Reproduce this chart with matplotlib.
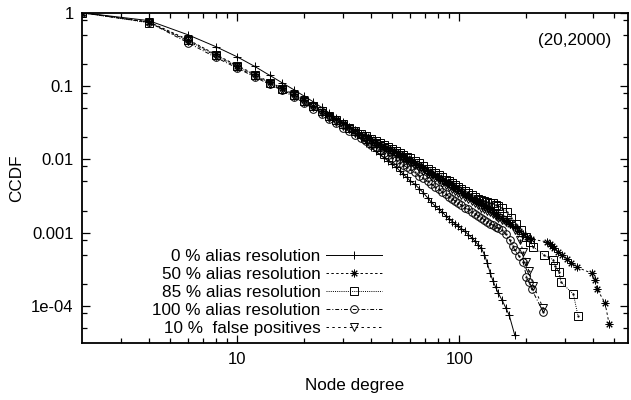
import matplotlib
matplotlib.use('Agg')
import matplotlib.pyplot as plt
from matplotlib.ticker import FixedLocator, FixedFormatter, NullFormatter

plt.rcParams['font.family'] = ['Liberation Sans', 'DejaVu Sans']

# degrees shared by the body of every curve
deg_body = [2, 4, 6, 8, 10, 12, 14, 16, 18, 20, 22, 24, 26, 28, 30, 32, 34, 36, 38, 40,
            42, 44, 46, 48, 50, 52, 54, 56, 58, 60,
            63, 66, 69, 72, 75, 78, 81, 84, 87, 90, 93, 96, 99, 102,
            106, 110, 114, 118, 122, 126, 130, 134, 138, 142, 146, 150]

# 0 % alias resolution
ccdf_0 = [1.0, 0.78, 0.50, 0.345, 0.25, 0.185, 0.140, 0.110, 0.089, 0.073, 0.061, 0.051, 0.043, 0.037, 0.032, 0.027, 0.023, 0.0195, 0.0168, 0.0146,
          0.0130, 0.0117, 0.0105, 0.0094, 0.0086, 0.0078, 0.0070, 0.0063, 0.0057, 0.0051,
          0.0046, 0.0040, 0.0035, 0.0030, 0.0026, 0.0023, 0.0021, 0.0019, 0.0017, 0.00155, 0.00142, 0.00132, 0.00122, 0.00114,
          0.00104, 0.00094, 0.00085, 0.00076, 0.00068, 0.00061, 0.00050, 0.00038, 0.00028, 0.00022, 0.00018, 0.00015]
tail_deg_0 = [156, 162, 168, 178]
tail_0 = [0.000120, 0.000095, 0.000075, 0.000040]

# 50 % alias resolution
ccdf_50 = [1.0, 0.75, 0.43, 0.27, 0.19, 0.145, 0.113, 0.093, 0.077, 0.064, 0.054, 0.046, 0.040, 0.035, 0.031, 0.0275, 0.0248, 0.0225, 0.0205, 0.0188,
           0.0174, 0.0162, 0.0152, 0.0142, 0.0133, 0.0125, 0.0117, 0.0110, 0.0104, 0.0098,
           0.0090, 0.0083, 0.0077, 0.0070, 0.0065, 0.0061, 0.0057, 0.0053, 0.0050, 0.0047, 0.0044, 0.0041, 0.0039, 0.0037,
           0.0034, 0.0032, 0.0030, 0.0028, 0.0026, 0.0025, 0.0023, 0.0022, 0.0021, 0.0019, 0.0018, 0.0017]
tail_deg_50 = [156, 162, 170, 178, 186, 194, 202, 210, 248, 256, 262, 268, 280, 292, 305, 320, 338, 395, 410, 418, 454, 474]
tail_50 = [0.0016, 0.00145, 0.00130, 0.00118, 0.00106, 0.00096, 0.00088, 0.00082, 0.00075, 0.00071, 0.00066, 0.00062,
           0.00055, 0.00049, 0.00044, 0.00039, 0.00034, 0.00028, 0.000225, 0.00017, 0.00011, 0.000056]

# 85 % alias resolution
ccdf_85 = [1.0, 0.73, 0.42, 0.265, 0.185, 0.140, 0.110, 0.091, 0.075, 0.063, 0.053, 0.045, 0.039, 0.034, 0.030, 0.027, 0.0245, 0.0223, 0.0205, 0.0190,
           0.0177, 0.0166, 0.0157, 0.0148, 0.0139, 0.0131, 0.0123, 0.0116, 0.0109, 0.0103,
           0.0095, 0.0088, 0.0081, 0.0075, 0.0070, 0.0065, 0.0061, 0.0057, 0.0053, 0.0050, 0.0047, 0.0044, 0.0042, 0.0040,
           0.0037, 0.0035, 0.0033, 0.0031, 0.0029, 0.0028, 0.0027, 0.0026, 0.0025, 0.0025, 0.0024, 0.0023]
tail_deg_85 = [156, 165, 172, 180, 190, 200, 208, 216, 242, 265, 270, 281, 288, 327, 343]
tail_85 = [0.0022, 0.0019, 0.0016, 0.0013, 0.0011, 0.00088, 0.00075, 0.00064, 0.00049, 0.00043, 0.00035, 0.00029, 0.00021, 0.000145, 0.000073]

# 100 % alias resolution
ccdf_100 = [1.0, 0.74, 0.39, 0.246, 0.176, 0.133, 0.105, 0.087, 0.071, 0.059, 0.049, 0.042, 0.036, 0.031, 0.027, 0.0242, 0.0217, 0.0195, 0.0176, 0.0159,
            0.0146, 0.0133, 0.0122, 0.0113, 0.0105, 0.0097, 0.0090, 0.0084, 0.0078, 0.0073,
            0.0067, 0.0060, 0.0055, 0.0050, 0.0046, 0.0042, 0.0039, 0.0036, 0.0034, 0.0031, 0.0029, 0.0027, 0.0025, 0.0024,
            0.0022, 0.0021, 0.0019, 0.0018, 0.0017, 0.0016, 0.00150, 0.00140, 0.00133, 0.00127, 0.00121, 0.00116]
tail_deg_100 = [156, 162, 169, 174, 178, 186, 194, 201, 206, 212, 239]
tail_100 = [0.00110, 0.00095, 0.00079, 0.00066, 0.00058, 0.00048, 0.00040, 0.00025, 0.00021, 0.00017, 0.000083]

# 10 % false positives
ccdf_fp = [1.0, 0.74, 0.41, 0.26, 0.18, 0.137, 0.108, 0.089, 0.073, 0.061, 0.051, 0.043, 0.037, 0.0325, 0.0288, 0.0258, 0.0232, 0.0210, 0.0192, 0.0176,
           0.0163, 0.0151, 0.0141, 0.0131, 0.0123, 0.0115, 0.0108, 0.0101, 0.0095, 0.0090,
           0.0083, 0.0076, 0.0070, 0.0064, 0.0060, 0.0056, 0.0052, 0.0048, 0.0045, 0.0042, 0.0040, 0.0037, 0.0035, 0.0033,
           0.0031, 0.0029, 0.0027, 0.0025, 0.0024, 0.0022, 0.0021, 0.0020, 0.0019, 0.0018, 0.0017, 0.0016]
tail_deg_fp = [156, 162, 170, 178, 188, 194, 200, 206, 216, 239]
tail_fp = [0.0015, 0.0014, 0.0013, 0.0011, 0.00079, 0.00055, 0.00040, 0.00030, 0.00019, 0.000093]

labels = ['0 % alias resolution', '50 % alias resolution', '85 % alias resolution',
          '100 % alias resolution', '10 %  false positives']
markers = ['+', (8, 2, 0), 's', 'o', 'v']
styles = ['-', (0, (2.5, 2.5)), (0, (1, 1.2)), (0, (4, 2, 1, 2)), (0, (2.5, 3.5))]

series = [
    (deg_body + tail_deg_0, ccdf_0 + tail_0),
    (deg_body + tail_deg_50, ccdf_50 + tail_50),
    (deg_body + tail_deg_85, ccdf_85 + tail_85),
    (deg_body + tail_deg_100, ccdf_100 + tail_100),
    (deg_body + tail_deg_fp, ccdf_fp + tail_fp),
]

fig = plt.figure(figsize=(6.31, 4.0), dpi=100)
ax = fig.add_axes([82 / 631, 1 - 343.3 / 400, 546 / 631, 330.6 / 400])

for i in range(5):
    x, y = series[i]
    ax.plot(x, y, color='black', linestyle=styles[i], linewidth=0.7,
            marker=markers[i], markersize=5.5, markeredgewidth=0.7,
            fillstyle='none', label=labels[i])
    ax.plot(x, y, linestyle='none', marker='.', markersize=1.2, color='black')

ax.set_xscale('log')
ax.set_yscale('log')
ax.set_xlim(2, 576)
ax.set_ylim(3.1e-5, 1)

ax.xaxis.set_major_locator(FixedLocator([10, 100]))
ax.xaxis.set_major_formatter(FixedFormatter(['10', '100']))
ax.xaxis.set_minor_locator(FixedLocator([3, 4, 5, 6, 7, 8, 9, 20, 30, 40, 50, 60, 70, 80, 90, 200, 300, 400, 500]))
ax.xaxis.set_minor_formatter(NullFormatter())
ax.yaxis.set_major_locator(FixedLocator([1, 0.1, 0.01, 0.001, 0.0001]))
ax.yaxis.set_major_formatter(FixedFormatter(['1', '0.1', '0.01', '0.001', '1e-04']))
ax.yaxis.set_minor_locator(FixedLocator([0.8, 0.5, 0.2, 0.08, 0.05, 0.02, 0.008, 0.005, 0.002,
                                         0.0008, 0.0005, 0.0002, 0.00008, 0.00005]))
ax.yaxis.set_minor_formatter(NullFormatter())

ax.tick_params(which='both', direction='in', top=True, right=True, labelsize=12, width=0.9)
ax.tick_params(which='major', length=5.8, pad=6)
ax.tick_params(which='minor', length=3.5)
for spine in ax.spines.values():
    spine.set_linewidth(1.3)

ax.set_xlabel('Node degree', fontsize=12.3, labelpad=8)
ax.set_ylabel('CCDF', fontsize=12.3, labelpad=5)
ax.text(538, 400 - 40, '(20,2000)', transform=None, fontsize=12.3, va='center', ha='left')

ax.legend(loc='lower right', bbox_to_anchor=((382 - 82) / 546, (343.3 - 336) / 330.6),
          frameon=False, markerfirst=False, fontsize=12.3, handlelength=3.3,
          handletextpad=0.3, labelspacing=0.17, borderpad=0, borderaxespad=0)

fig.savefig('out.png', dpi=100)
